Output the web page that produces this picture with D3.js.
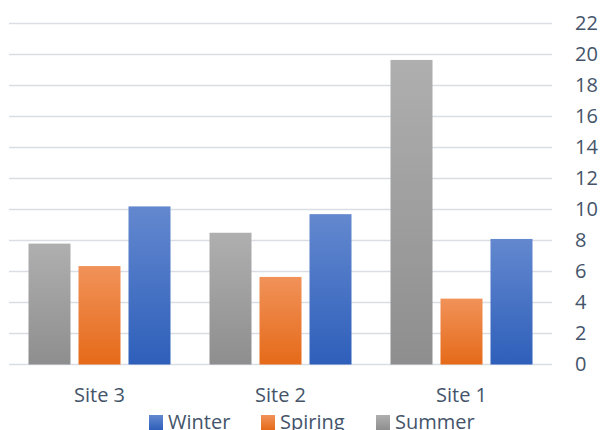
<!DOCTYPE html>
<html>
<head>
<meta charset="utf-8">
<script src="https://cdn.jsdelivr.net/npm/d3@7"></script>
<style>
  body { margin: 0; background: #fff; }
  text { font-family: "Open Sans", sans-serif; fill: #44546a; }
</style>
</head>
<body>
<div id="graf"></div>
<script>
// datos
sites = ['Site 3', 'Site 2', 'Site 1']
series = ['Summer', 'Spiring', 'Winter']
summer = [7.8, 8.5, 19.65]
spiring = [6.35, 5.65, 4.25]
winter = [10.2, 9.7, 8.1]
yTicks = [0, 2, 4, 6, 8, 10, 12, 14, 16, 18, 20, 22]
legendOrder = ['Winter', 'Spiring', 'Summer']

valores = { Summer: summer, Spiring: spiring, Winter: winter }

ancho_total = 600
alto_total = 430
margins = { top: 23.5, left: 9, right: 48, bottom: 65.5 }
ancho = ancho_total - margins.left - margins.right
alto = alto_total - margins.top - margins.bottom

svg = d3.select('#graf').append('svg')
        .attr('width', ancho_total)
        .attr('height', alto_total)

// gradientes
grads = {
        Summer: ['#afafaf', '#8e8e8e'],
        Spiring: ['#f19259', '#e56a19'],
        Winter: ['#6388cf', '#2e5fba']
}
defs = svg.append('defs')
series.forEach(s => {
        lg = defs.append('linearGradient')
                .attr('id', 'g_' + s)
                .attr('x1', 0).attr('y1', 0).attr('x2', 0).attr('y2', 1)
        lg.append('stop').attr('offset', '0%').attr('stop-color', grads[s][0])
        lg.append('stop').attr('offset', '100%').attr('stop-color', grads[s][1])
})

g = svg.append('g')
        .attr('transform', `translate(${margins.left}, ${margins.top})`)

x = d3.scaleBand().domain(sites).range([0, ancho]).paddingInner(0).paddingOuter(0)
y = d3.scaleLinear().domain([0, 22]).range([alto, 0])
xs = d3.scaleBand().domain(series).range([19.5, x.bandwidth() - 19.5]).paddingInner(0.16)

// grilla
g.selectAll('.grid')
        .data(yTicks)
        .join('line')
        .attr('x1', 0)
        .attr('x2', ancho)
        .attr('y1', d => y(d))
        .attr('y2', d => y(d))
        .attr('stroke', '#dadee4')
        .attr('stroke-width', 1.5)

// eje y a la derecha
ejeY = g.append('g')
        .attr('transform', `translate(${ancho + 23}, 0)`)
        .call(d3.axisRight(y).tickValues(yTicks).tickSize(0).tickPadding(0))
ejeY.select('.domain').remove()
ejeY.selectAll('text')
        .attr('font-size', 20)
        .attr('font-family', '"Open Sans", sans-serif')
        .attr('fill', '#44546a')

// barras
grupos = g.selectAll('.site')
        .data(sites)
        .join('g')
        .attr('transform', d => `translate(${x(d)}, 0)`)

grupos.selectAll('rect')
        .data((d, i) => series.map(s => ({ s: s, v: valores[s][i] })))
        .join('rect')
        .attr('x', d => xs(d.s))
        .attr('width', xs.bandwidth())
        .attr('y', d => y(d.v))
        .attr('height', d => y(0) - y(d.v))
        .attr('fill', d => `url(#g_${d.s})`)

// eje x
ejeX = g.append('g')
        .attr('transform', `translate(0, ${alto})`)
        .call(d3.axisBottom(x).tickSize(0).tickPadding(23))
ejeX.select('.domain').remove()
ejeX.selectAll('text')
        .attr('font-size', 20)
        .attr('font-family', '"Open Sans", sans-serif')
        .attr('fill', '#44546a')

// leyenda
legX = [149, 261, 376]
leyenda = svg.selectAll('.leg')
        .data(legendOrder)
        .join('g')
        .attr('transform', (d, i) => `translate(${legX[i]}, 415)`)
leyenda.append('rect')
        .attr('width', 14).attr('height', 15)
        .attr('fill', d => `url(#g_${d})`)
leyenda.append('text')
        .attr('x', 19)
        .attr('y', 14)
        .attr('font-size', 20)
        .text(d => d)
</script>
</body>
</html>
